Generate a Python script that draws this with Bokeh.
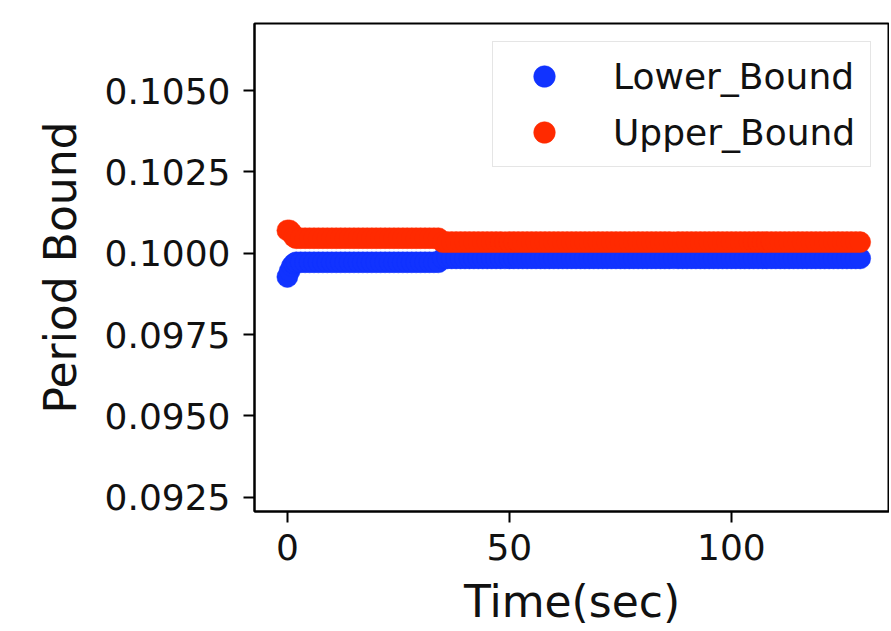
from bokeh.plotting import figure
from bokeh.models import Range1d, FixedTicker, NumeralTickFormatter, Legend, LegendItem, ColumnDataSource
from bokeh.embed import file_html
from bokeh.resources import INLINE

# ---- data ----
time_sec = [0, 0.5, 1, 1.5, 2, 3, 4, 5, 6, 7, 8, 9, 10, 11, 12, 13, 14, 15, 16, 17,
            18, 19, 20, 21, 22, 23, 24, 25, 26, 27, 28, 29, 30, 31, 32, 33, 34,
            35, 36, 37, 38, 39, 40, 41, 42, 43, 44, 45, 46, 47, 48, 49, 50, 51, 52,
            53, 54, 55, 56, 57, 58, 59, 60, 61, 62, 63, 64, 65, 66, 67, 68, 69, 70,
            71, 72, 73, 74, 75, 76, 77, 78, 79, 80, 81, 82, 83, 84, 85, 86, 87, 88,
            89, 90, 91, 92, 93, 94, 95, 96, 97, 98, 99, 100, 101, 102, 103, 104, 105,
            106, 107, 108, 109, 110, 111, 112, 113, 114, 115, 116, 117, 118, 119, 120,
            121, 122, 123, 124, 125, 126, 127, 128, 129]

lower_bound = [0.09927, 0.09945, 0.09960, 0.09968,
               0.09972, 0.09972, 0.09972, 0.09972, 0.09972, 0.09972, 0.09972, 0.09972, 0.09972, 0.09972,
               0.09972, 0.09972, 0.09972, 0.09972, 0.09972, 0.09972, 0.09972, 0.09972, 0.09972, 0.09972,
               0.09972, 0.09972, 0.09972, 0.09972, 0.09972, 0.09972, 0.09972, 0.09972, 0.09972, 0.09972,
               0.09972, 0.09972, 0.09972,
               0.09984, 0.09984, 0.09984, 0.09984, 0.09984, 0.09984, 0.09984, 0.09984, 0.09984, 0.09984,
               0.09984, 0.09984, 0.09984, 0.09984, 0.09984, 0.09984, 0.09984, 0.09984, 0.09984, 0.09984,
               0.09984, 0.09984, 0.09984, 0.09984, 0.09984, 0.09984, 0.09984, 0.09984, 0.09984, 0.09984,
               0.09984, 0.09984, 0.09984, 0.09984, 0.09984, 0.09984, 0.09984, 0.09984, 0.09984, 0.09984,
               0.09984, 0.09984, 0.09984, 0.09984, 0.09984, 0.09984, 0.09984, 0.09984, 0.09984, 0.09984,
               0.09984, 0.09984, 0.09984, 0.09984, 0.09984, 0.09984, 0.09984, 0.09984, 0.09984, 0.09984,
               0.09984, 0.09984, 0.09984, 0.09984, 0.09984, 0.09984, 0.09984, 0.09984, 0.09984, 0.09984,
               0.09984, 0.09984, 0.09984, 0.09984, 0.09984, 0.09984, 0.09984, 0.09984, 0.09984, 0.09984,
               0.09984, 0.09984, 0.09984, 0.09984, 0.09984, 0.09984, 0.09984, 0.09984, 0.09984, 0.09984,
               0.09984, 0.09984, 0.09984, 0.09984, 0.09984]

upper_bound = [0.10070, 0.10070, 0.10062, 0.10050,
               0.10046, 0.10046, 0.10046, 0.10046, 0.10046, 0.10046, 0.10046, 0.10046, 0.10046, 0.10046,
               0.10046, 0.10046, 0.10046, 0.10046, 0.10046, 0.10046, 0.10046, 0.10046, 0.10046, 0.10046,
               0.10046, 0.10046, 0.10046, 0.10046, 0.10046, 0.10046, 0.10046, 0.10046, 0.10046, 0.10046,
               0.10046, 0.10046, 0.10046,
               0.10034, 0.10034, 0.10034, 0.10034, 0.10034, 0.10034, 0.10034, 0.10034, 0.10034, 0.10034,
               0.10034, 0.10034, 0.10034, 0.10034, 0.10034, 0.10034, 0.10034, 0.10034, 0.10034, 0.10034,
               0.10034, 0.10034, 0.10034, 0.10034, 0.10034, 0.10034, 0.10034, 0.10034, 0.10034, 0.10034,
               0.10034, 0.10034, 0.10034, 0.10034, 0.10034, 0.10034, 0.10034, 0.10034, 0.10034, 0.10034,
               0.10034, 0.10034, 0.10034, 0.10034, 0.10034, 0.10034, 0.10034, 0.10034, 0.10034, 0.10034,
               0.10034, 0.10034, 0.10034, 0.10034, 0.10034, 0.10034, 0.10034, 0.10034, 0.10034, 0.10034,
               0.10034, 0.10034, 0.10034, 0.10034, 0.10034, 0.10034, 0.10034, 0.10034, 0.10034, 0.10034,
               0.10034, 0.10034, 0.10034, 0.10034, 0.10034, 0.10034, 0.10034, 0.10034, 0.10034, 0.10034,
               0.10034, 0.10034, 0.10034, 0.10034, 0.10034, 0.10034, 0.10034, 0.10034, 0.10034, 0.10034,
               0.10034, 0.10034, 0.10034, 0.10034, 0.10034]

x_ticks = [0, 50, 100]
y_ticks = [0.0925, 0.0950, 0.0975, 0.1000, 0.1025, 0.1050]
series_labels = ["Lower_Bound", "Upper_Bound"]

BLUE = "#1133ff"
RED = "#ff2a00"
FONT = "DejaVu Sans"

src = ColumnDataSource(dict(t=time_sec, lo=lower_bound, up=upper_bound))

p = figure(frame_width=635, frame_height=488,
           min_border_left=254, min_border_top=23, min_border_right=0, min_border_bottom=104,
           x_range=Range1d(-7.4, 135.6), y_range=Range1d(0.09206, 0.10706),
           output_backend="svg", toolbar_location=None)

r_lo = p.scatter("t", "lo", source=src, size=21, fill_color=BLUE, line_color=BLUE, line_width=0.5)
r_up = p.scatter("t", "up", source=src, size=21, fill_color=RED, line_color=RED, line_width=0.5)

p.xgrid.visible = False
p.ygrid.visible = False
p.outline_line_color = "black"
p.outline_line_width = 2
p.outline_line_alpha = 1.0
p.background_fill_color = "white"
p.border_fill_color = "white"

p.xaxis.ticker = FixedTicker(ticks=x_ticks)
p.yaxis.ticker = FixedTicker(ticks=y_ticks)
p.yaxis.formatter = NumeralTickFormatter(format="0.0000")

for ax in (p.xaxis[0], p.yaxis[0]):
    ax.axis_line_color = "black"
    ax.axis_line_width = 2
    ax.major_tick_line_color = "black"
    ax.major_tick_line_width = 2
    ax.major_tick_out = 11
    ax.major_tick_in = 0
    ax.minor_tick_line_color = None
    ax.major_label_text_font = FONT
    ax.major_label_text_font_size = "36px"
    ax.major_label_text_color = "#111111"
    ax.axis_label_text_font = FONT
    ax.axis_label_text_font_size = "44px"
    ax.axis_label_text_font_style = "normal"
    ax.axis_label_text_color = "#111111"

p.xaxis.axis_label = "Time(sec)"
p.yaxis.axis_label = "Period Bound"
p.xaxis.major_label_standoff = 11
p.yaxis.major_label_standoff = 13
p.xaxis.axis_label_standoff = 13
p.yaxis.axis_label_standoff = 16

legend = Legend(items=[LegendItem(label=series_labels[0], renderers=[r_lo]),
                       LegendItem(label=series_labels[1], renderers=[r_up])],
                location="top_right", margin=18, padding=7, spacing=2,
                glyph_width=88, glyph_height=54, label_standoff=25, label_height=54,
                label_width=250,
                label_text_font=FONT, label_text_font_size="36px", label_text_color="#111111",
                border_line_color="#cccccc", border_line_width=1.5,
                background_fill_color="white", background_fill_alpha=0.8)
p.add_layout(legend)

open("out.html", "w").write(file_html(p, INLINE))
